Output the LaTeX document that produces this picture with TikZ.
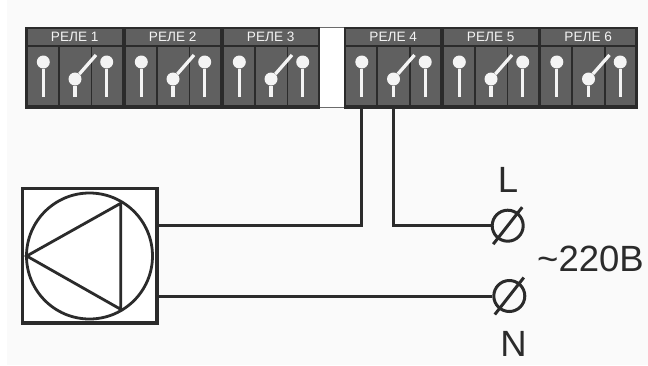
\documentclass[tikz,border=0pt]{standalone}
\usepackage{fontspec}
\setmainfont{Liberation Sans}
\usepackage{xcolor}
\definecolor{pagebg}{HTML}{FAFAFA}
\definecolor{dark}{HTML}{2B2B2B}
\definecolor{cellgray}{HTML}{606060}
\definecolor{pin}{HTML}{F4F4F4}

\begin{document}
\begin{tikzpicture}[x=1pt,y=-1pt]
      \tikzstyle{relay}=[rectangle,draw=dark,fill=dark,line width=.4pt,inner sep=0pt,minimum width=98pt,minimum height=81pt,anchor=north west]
      \tikzstyle{head}=[rectangle,fill=cellgray,inner sep=0pt,minimum width=94pt,minimum height=16pt,anchor=north west,text=pin,font=\fontsize{13.6}{13.6}\selectfont]
      \tikzstyle{cell}=[rectangle,fill=cellgray,inner sep=0pt,minimum height=58pt,anchor=north west]
      \tikzstyle{ball}=[circle,fill=pin,inner sep=0pt,minimum size=13pt]
      \tikzstyle{stem}=[draw=pin,line width=3.3pt]
      \tikzstyle{wire}=[draw=dark,line width=3pt]
      \tikzstyle{big}=[font=\fontsize{36.5}{36.5}\selectfont,text=dark,inner sep=0pt]
      \useasboundingbox (0,0) rectangle (648,365);
      \fill[white] (0,0) rectangle (648,365);
      \fill[pagebg] (7,0) rectangle (648,365);
      % gap between the relay groups
      \draw[fill=white,draw=dark!70,line width=1pt] (318,27.5) rectangle (344,107);
      % relays
      \foreach \i/\x in {1/25,2/123,3/221,4/343.5,5/441,6/538.5}{
        \node[relay] (rele\i) at (\x,27) {};
        \node[head] (head\i) at (\x+2.5,29) {РЕЛЕ \i};
        \node[cell,minimum width=30pt] (cella\i) at (\x+2.5,47) {};
        \node[cell,minimum width=31pt] (cellb\i) at (\x+34.5,47) {};
        \node[cell,minimum width=29.5pt] (cellc\i) at (\x+67,47) {};
        \node[ball] (balla\i) at (\x+18.3,62) {};
        \node[ball] (ballb\i) at (\x+50,79) {};
        \node[ball] (ballc\i) at (\x+81.7,62) {};
        \coordinate (enda\i) at (\x+18.3,97);
        \coordinate (endb\i) at (\x+50,97);
        \coordinate (endc\i) at (\x+81.7,97);
        \coordinate (arm\i) at (\x+71,55);
        \draw[stem] (balla\i) -- (enda\i);
        \draw[stem] (ballb\i) -- (endb\i);
        \draw[stem] (ballc\i) -- (endc\i);
        \draw[stem] (ballb\i) -- (arm\i);
      }
      % pump
      \node[draw=dark,fill=white,line width=3.2pt,inner sep=0pt,minimum size=134.5pt] (pump) at (89.7,255.8) {};
      \node[draw=dark,circle,line width=2.8pt,inner sep=0pt,minimum size=126pt] (wheel) at (89.5,256) {};
      \coordinate (tipa) at (26.7,256);
      \coordinate (tipb) at (120.7,203.3);
      \coordinate (tipc) at (120.7,309.3);
      \draw[draw=dark,line width=2.8pt] (tipa) -- (tipb) -- (tipc) -- cycle;
      % mains terminals
      \node[draw=dark,circle,line width=3pt,inner sep=0pt,minimum size=31pt] (termL) at (507.7,225.7) {};
      \node[draw=dark,circle,line width=3pt,inner sep=0pt,minimum size=31pt] (termN) at (509.3,296) {};
      \draw[wire] (termL) +(-14.5,18.5) -- +(14.5,-18.5);
      \draw[wire] (termN) +(-14.5,18.5) -- +(14.5,-18.5);
      \draw[wire] (rele4.south -| enda4) |- (pump.east |- termL);
      \draw[wire] (rele4.south -| endb4) |- (termL);
      \draw[wire] (pump.east |- termN) -- (termN);
      \node[big] (labL) at (508,180) {L};
      \node[big] (labN) at (513.5,344) {N};
      \node[big] (labV) at (590.5,258.5) {\textasciitilde 220В};
\end{tikzpicture}
\end{document}
